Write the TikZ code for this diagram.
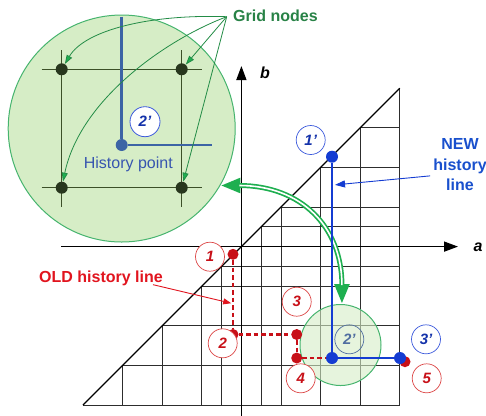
\documentclass[tikz,border=0pt]{standalone}
\usepackage{fontspec}
\setmainfont{Liberation Sans}
\usetikzlibrary{arrows.meta,calc}
\definecolor{gfill}{RGB}{214,237,198}
\definecolor{gline}{RGB}{70,180,110}
\definecolor{gdarknode}{RGB}{40,55,30}
\definecolor{gigrid}{RGB}{60,80,40}
\definecolor{gtext}{RGB}{40,130,70}
\definecolor{garr}{RGB}{35,140,70}
\definecolor{gdbl}{RGB}{30,175,80}
\definecolor{redD}{RGB}{200,16,24}
\definecolor{redT}{RGB}{225,20,30}
\definecolor{redC}{RGB}{220,70,70}
\definecolor{blueD}{RGB}{20,60,210}
\definecolor{blueT}{RGB}{25,80,205}
\definecolor{blueL}{RGB}{20,50,170}
\definecolor{blueC}{RGB}{60,90,220}
\definecolor{steel}{RGB}{60,100,165}
\definecolor{steelT}{RGB}{55,85,175}
\definecolor{greyblue}{RGB}{80,110,160}
\definecolor{gridc}{RGB}{45,45,45}
\begin{document}
\begin{tikzpicture}[x=1bp,y=-1bp,
  gridl/.style={draw=gridc,line width=0.9bp},
  diagl/.style={draw=black,line width=1.2bp},
  axisl/.style={draw=black,line width=1.4bp,-{Triangle[length=14bp,width=10bp]}},
  gnode/.style={circle,fill=gdarknode,inner sep=0pt,minimum size=12bp},
  igrid/.style={draw=gigrid,line width=1bp},
  garrow/.style={draw=garr,line width=0.8bp,-{Triangle[length=9bp,width=6bp]}},
  reddot/.style={circle,fill=redD,inner sep=0pt,minimum size=11bp},
  bluedot/.style={circle,fill=blueD,inner sep=0pt,minimum size=12bp},
  redlab/.style={circle,draw=redC,fill=white,line width=0.7bp,minimum size=29bp,inner sep=0pt,text=redD,font=\fontsize{15bp}{17bp}\selectfont\bfseries\itshape},
  bluelab/.style={circle,draw=blueC,fill=white,line width=0.7bp,minimum size=29bp,inner sep=0pt,text=blueL,font=\fontsize{15bp}{17bp}\selectfont\bfseries\itshape},
  redpath/.style={draw=redD,line width=2.2bp,dash pattern=on 4.5bp off 3bp},
  bluepath/.style={draw=blueD,line width=2.6bp},
  thinarrow/.style={line width=0.9bp,-{Triangle[length=9bp,width=6bp]}}
]
\useasboundingbox (0,0) rectangle (486,415);

% ---------- big magnifier circle ----------
\node[circle,fill=gfill,draw=gline,line width=1bp,minimum size=227bp,inner sep=0pt] (bc) at (121.7,128.5) {};
\draw[igrid] (41.7,69.3) -- (201.7,69.3);
\draw[igrid] (41.7,187.7) -- (201.7,187.7);
\draw[igrid] (61.7,50) -- (61.7,206.7);
\draw[igrid] (181.7,50) -- (181.7,206.7);
\node[gnode] (n1) at (61.7,69.3) {};
\node[gnode] (n2) at (181.7,69.3) {};
\node[gnode] (n3) at (61.7,187.7) {};
\node[gnode] (n4) at (181.7,187.7) {};
\coordinate (ht) at (121.7,16.7);
\coordinate (hr) at (211.7,145);
\node[circle,fill=steel,inner sep=0pt,minimum size=12bp] (hp) at (121.7,145) {};
\draw[draw=steel,line width=2.8bp] (ht) -- (hp) -- (hr);
\node[circle,draw=blueC,fill=white,line width=0.8bp,minimum size=30bp,inner sep=0pt,text=blueL,font=\fontsize{15bp}{17bp}\selectfont\bfseries\itshape] (bl2) at (145,121.7) {2'};
\node[text=steelT,font=\fontsize{16bp}{19bp}\selectfont] (hpt) at (128.3,164) {History point};

% ---------- Grid nodes label & arrows ----------
\node[anchor=west,inner sep=0pt,text=gtext,font=\fontsize{16bp}{19bp}\selectfont\bfseries] (gn) at (233,16) {Grid nodes};
\coordinate (gs) at (226.7,16.7);
\draw[garrow,-{Triangle[length=9bp,width=6bp,fill=gdbl]}] (gs) .. controls (150,14) and (85,30) .. (n1);
\draw[garrow,-{Triangle[length=9bp,width=6bp,fill=gdbl]}] (gs) -- (n2);
\draw[garrow,-{Triangle[length=9bp,width=6bp,fill=gdbl]}] (gs) .. controls (165,40) and (80,100) .. (n3);
\draw[garrow,-{Triangle[length=9bp,width=6bp,fill=gdbl]}] (gs) -- (n4);

% ---------- triangular grid ----------
\begin{scope}[shift={(241.4,246.6)},x=39.6bp,y=39.6bp]
  \draw[gridl] (-4,-4) -- (4,-4) -- (4,4);
  \foreach \v in {-3,-2,-1,-0.5,0.5,1,2,3} \draw[gridl] (\v,-4) -- (\v,\v);
  \foreach \h in {-3,-2,-1,-0.5,0.5,1,2,3} \draw[gridl] (\h,\h) -- (4,\h);
  \draw[diagl] (-4,-4) -- (4,4);
  \coordinate (axL) at (-4.55,0);
  \coordinate (axR) at (5.47,0);
  \coordinate (axB) at (0,-4.3);
  \coordinate (axT) at (0,4.56);
  \draw[axisl] (axL) -- (axR);
  \draw[axisl] (axB) -- (axT);
\end{scope}
\node[font=\fontsize{16bp}{19bp}\selectfont\bfseries\itshape] (la) at (478,247) {a};
\node[font=\fontsize{16bp}{19bp}\selectfont\bfseries\itshape] (lb) at (265,73) {b};

% ---------- small circle ----------
\node[circle,fill=gfill,fill opacity=0.6,draw=gline,line width=1bp,minimum size=81bp,inner sep=0pt] (sc) at (340.5,345) {};
\node[circle,draw=greyblue,line width=0.7bp,minimum size=29bp,inner sep=0pt,text=greyblue,font=\fontsize{15bp}{17bp}\selectfont\bfseries\itshape] (sl2) at (349.3,339.3) {2'};

% ---------- green double arrow ----------
\draw[draw=gdbl,line width=5bp,{Triangle[length=20bp,width=14bp]}-{Triangle[length=20bp,width=14bp]}]
  (bc.-30) .. controls +(80,0) and +(0,-78) .. (sc.88);
\draw[draw=white,line width=1.6bp,shorten <=19bp,shorten >=19bp]
  (bc.-30) .. controls +(80,0) and +(0,-78) .. (sc.88);

% ---------- history points ----------
\node[reddot] (p1) at (233,254.3) {};
\node[reddot] (p2) at (233,334.5) {};
\node[reddot] (p3) at (296.7,334.5) {};
\node[reddot] (p4) at (296.7,358) {};
\node[reddot] (p5) at (405,361.7) {};
\node[bluedot] (q1) at (332,156.7) {};
\node[bluedot] (q2) at (332,358) {};
\node[bluedot] (q3) at (400,358) {};
\draw[redpath] (p1) -- (p2) -- (p3) -- (p4) -- (q2);
\draw[bluepath] (q1) -- (q2) -- (q3);

% ---------- labels ----------
\node[redlab] (l1) at (210,256.7) {1};
\node[redlab] (l2) at (222.7,343.3) {2};
\node[redlab] (l3) at (296.7,301.7) {3};
\node[redlab] (l4) at (300.7,378.3) {4};
\node[redlab] (l5) at (426.7,378.3) {5};
\node[bluelab] (m1) at (310.7,140) {1'};
\node[bluelab] (m3) at (426,339.3) {3'};

% ---------- captions ----------
\node[align=center,inner sep=3bp,text=blueT,font=\fontsize{16bp}{20.5bp}\selectfont\bfseries] (nt) at (460,165) {NEW\\history\\line};
\coordinate (ntip) at ($(q1)!0.14!(q2)+(3,0)$);
\draw[thinarrow,draw=blueD,-{Triangle[length=10bp,width=7bp,fill=blueD]}] (nt.200) -- (ntip);
\node[inner sep=2bp,text=redT,font=\fontsize{16bp}{19bp}\selectfont\bfseries] (ot) at (101,278) {OLD history line};
\coordinate (otip) at ($(p1)!0.61!(p2)+(-1.8,0)$);
\draw[thinarrow,draw=redT,-{Triangle[length=8bp,width=6bp,fill=redT]}] ($(ot.south east)+(-12,-3)$) -- (otip);
\end{tikzpicture}
\end{document}
